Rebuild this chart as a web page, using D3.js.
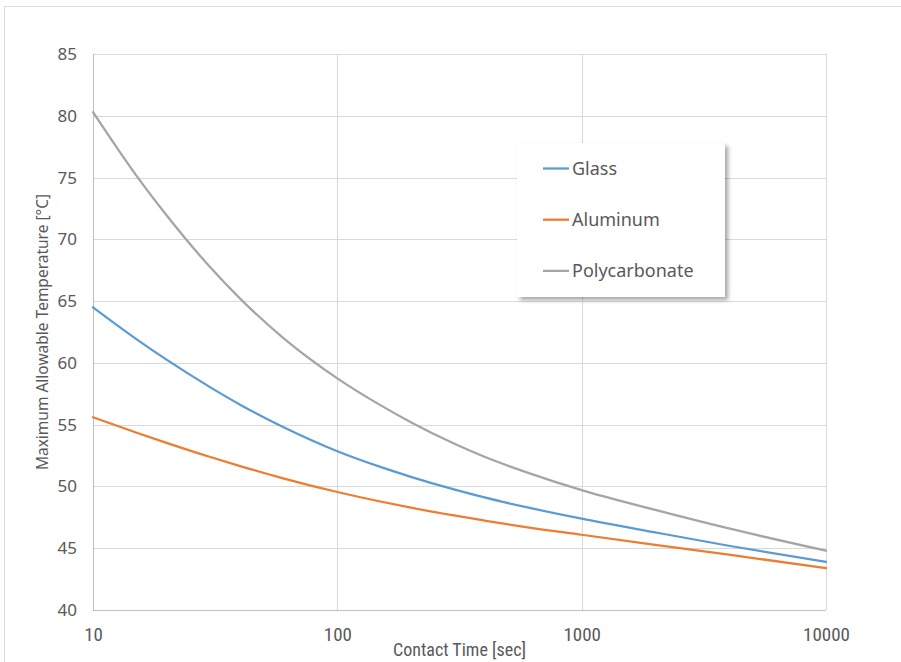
<!DOCTYPE html>
<html>
<head>
<meta charset="utf-8">
<script src="https://cdn.jsdelivr.net/npm/d3@7"></script>
<style>
  html, body { margin: 0; padding: 0; background: #fff; }
  svg { display: block; }
</style>
</head>
<body>
<svg id="chart" width="901" height="662"></svg>
<script>
// Contact time (seconds) at which each temperature limit was evaluated
const contactTime = [10, 15, 20, 30, 40, 60, 100, 150, 200, 300, 400, 600, 1000, 2000, 4000, 10000];

// Maximum allowable surface temperature [°C] per material
const glass         = [64.5, 61.95, 60.26, 58.06, 56.62, 54.81, 52.85, 51.58, 50.78, 49.76, 49.11, 48.3, 47.39, 46.28, 45.2, 43.89];
const aluminum      = [55.6, 54.37, 53.53, 52.4, 51.65, 50.66, 49.55, 48.78, 48.28, 47.65, 47.24, 46.69, 46.09, 45.28, 44.48, 43.39];
const polycarbonate = [80.3, 75.2, 71.95, 67.8, 65.2, 62.03, 58.75, 56.58, 55.2, 53.47, 52.4, 51.12, 49.7, 48.1, 46.6, 44.8];

const seriesNames  = ["Glass", "Aluminum", "Polycarbonate"];
const seriesColors = ["#5B9BD5", "#ED7D31", "#A5A5A5"];
const seriesValues = [glass, aluminum, polycarbonate];

const xTicks = [10, 100, 1000, 10000];
const yTicks = [40, 45, 50, 55, 60, 65, 70, 75, 80, 85];

const xTitle = "Contact Time [sec]";
const yTitle = "Maximum Allowable Temperature [°C]";

const svg = d3.select("#chart");
const plot = { left: 93, right: 826, top: 54, bottom: 610 };

const x = d3.scaleLog().domain([10, 10000]).range([plot.left, plot.right]);
const y = d3.scaleLinear().domain([40, 85]).range([plot.bottom, plot.top]);

const textColor = "#595959";
const gridColor = "#D9D9D9";
const narrowFont = "'Liberation Sans Narrow', 'Roboto Condensed', sans-serif";
const bodyFont = "'Noto Sans', 'Open Sans', sans-serif";

// Outer chart frame
svg.append("rect")
  .attr("x", 4.5).attr("y", 6.5)
  .attr("width", 1000).attr("height", 1000)
  .attr("fill", "#fff")
  .attr("stroke", gridColor).attr("stroke-width", 1);

// Horizontal gridlines
svg.append("g")
  .selectAll("line")
  .data(yTicks)
  .join("line")
  .attr("x1", plot.left).attr("x2", plot.right)
  .attr("y1", d => Math.round(y(d)) + 0.5)
  .attr("y2", d => Math.round(y(d)) + 0.5)
  .attr("stroke", gridColor).attr("stroke-width", 1);

// Vertical gridlines at each decade
svg.append("g")
  .selectAll("line")
  .data(xTicks)
  .join("line")
  .attr("x1", d => Math.round(x(d)) + 0.5)
  .attr("x2", d => Math.round(x(d)) + 0.5)
  .attr("y1", plot.top).attr("y2", plot.bottom)
  .attr("stroke", gridColor).attr("stroke-width", 1);

// Axis lines
svg.append("line")
  .attr("x1", Math.round(x(10)) + 0.5).attr("x2", Math.round(x(10)) + 0.5)
  .attr("y1", plot.top).attr("y2", plot.bottom)
  .attr("stroke", "#BFBFBF");
svg.append("line")
  .attr("x1", plot.left).attr("x2", plot.right)
  .attr("y1", Math.round(y(40)) + 0.5).attr("y2", Math.round(y(40)) + 0.5)
  .attr("stroke", "#BFBFBF");

// Y axis (labels only)
const yAxis = d3.axisLeft(y).tickValues(yTicks).tickSize(0).tickPadding(16).tickFormat(d3.format("d"));
const yg = svg.append("g").attr("transform", `translate(${plot.left},0)`).call(yAxis);
yg.select(".domain").remove();
yg.selectAll("text")
  .attr("fill", textColor)
  .style("font-family", bodyFont)
  .style("font-size", "17px");

// X axis (labels only)
const xAxis = d3.axisBottom(x).tickValues(xTicks).tickSize(0).tickPadding(0).tickFormat(d3.format("d"));
const xg = svg.append("g").attr("transform", `translate(0,${plot.bottom})`).call(xAxis);
xg.select(".domain").remove();
xg.selectAll("text")
  .attr("fill", textColor)
  .attr("dy", 0)
  .attr("y", 31)
  .style("font-family", narrowFont)
  .style("font-size", "19px");

// Axis titles
svg.append("text")
  .attr("x", (plot.left + plot.right) / 2)
  .attr("y", 656)
  .attr("text-anchor", "middle")
  .attr("fill", textColor)
  .style("font-family", narrowFont)
  .style("font-size", "18px")
  .text(xTitle);

svg.append("text")
  .attr("transform", `translate(48,${(plot.top + plot.bottom) / 2}) rotate(-90)`)
  .attr("text-anchor", "middle")
  .attr("fill", textColor)
  .style("font-family", bodyFont)
  .style("font-size", "15.5px")
  .text(yTitle);

// Series lines
const line = d3.line()
  .x(d => x(d[0]))
  .y(d => y(d[1]))
  .curve(d3.curveMonotoneX);

svg.append("g")
  .selectAll("path")
  .data(seriesValues)
  .join("path")
  .attr("d", vals => line(contactTime.map((t, i) => [t, vals[i]])))
  .attr("fill", "none")
  .attr("stroke", (d, i) => seriesColors[i])
  .attr("stroke-width", 2.25)
  .attr("stroke-linejoin", "round")
  .attr("stroke-linecap", "round");

// Legend with drop shadow
const defs = svg.append("defs");
const shadow = defs.append("filter").attr("id", "legendShadow")
  .attr("x", "-10%").attr("y", "-10%").attr("width", "130%").attr("height", "130%");
shadow.append("feDropShadow")
  .attr("dx", 3).attr("dy", 3).attr("stdDeviation", 2)
  .attr("flood-color", "#000").attr("flood-opacity", 0.35);

const legend = svg.append("g").attr("transform", "translate(517,143)");
legend.append("rect")
  .attr("width", 208).attr("height", 154)
  .attr("fill", "#fff")
  .attr("filter", "url(#legendShadow)");

const item = legend.selectAll("g.item")
  .data(seriesNames)
  .join("g")
  .attr("class", "item")
  .attr("transform", (d, i) => `translate(0,${25.5 + i * 51.2})`);
item.append("line")
  .attr("x1", 26).attr("x2", 52)
  .attr("stroke", (d, i) => seriesColors[i])
  .attr("stroke-width", 2.25);
item.append("text")
  .attr("x", 55)
  .attr("dy", "0.35em")
  .attr("fill", textColor)
  .style("font-family", bodyFont)
  .style("font-size", "18px")
  .text(d => d);
</script>
</body>
</html>
